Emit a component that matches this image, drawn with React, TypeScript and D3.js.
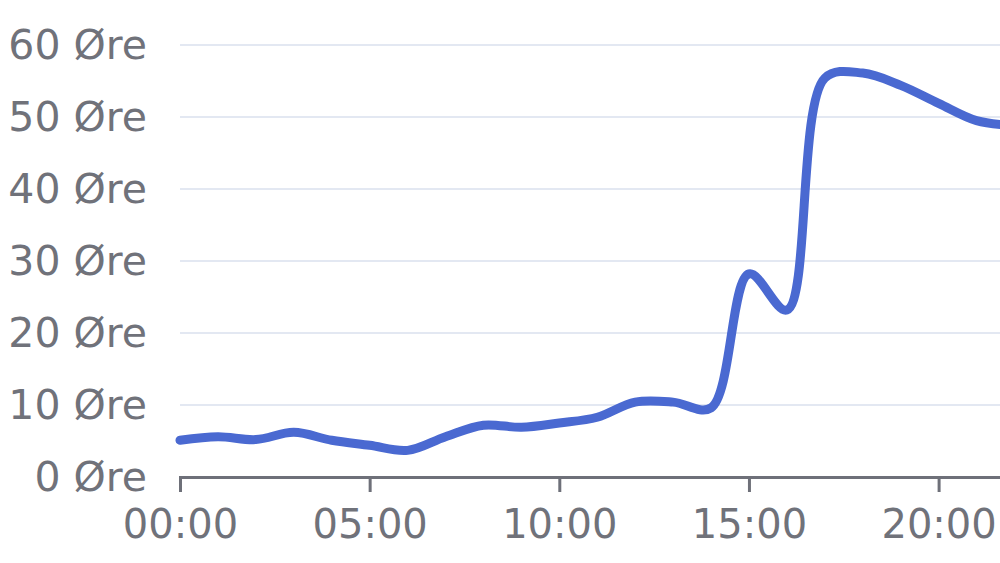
import React, { useEffect, useRef } from "react";
import * as d3 from "d3";

// hourly price, øre
const hours = [0, 1, 2, 3, 4, 5, 6, 7, 8, 9, 10, 11, 12, 13, 14, 15, 16, 17, 18, 19, 20, 21, 22];
const prices = [5.1, 5.6, 5.2, 6.2, 5.1, 4.4, 3.7, 5.6, 7.2, 6.9, 7.5, 8.3, 10.4, 10.4, 9.6, 28.2, 23.2, 55.4, 56.1, 54.4, 51.9, 49.5, 48.8];
const yTicks = [0, 10, 20, 30, 40, 50, 60];
const xTicks = [0, 5, 10, 15, 20];

const W = 1000;
const H = 563;

export default function App() {
  const ref = useRef<SVGSVGElement>(null);

  useEffect(() => {
    document.body.style.margin = "0";
    const svg = d3.select(ref.current);
    svg.selectAll("*").remove();

    const x = d3.scaleLinear().domain([0, 23]).range([180, 180 + 23 * 37.93]);
    const y = d3.scaleLinear().domain([0, 60]).range([477, 45]);

    // grid
    svg.append("g")
      .selectAll("line")
      .data(yTicks.filter((d) => d > 0))
      .enter()
      .append("line")
      .attr("x1", x(0))
      .attr("x2", W)
      .attr("y1", (d) => y(d))
      .attr("y2", (d) => y(d))
      .attr("stroke", "#e3e8f2")
      .attr("stroke-width", 2);

    // y labels
    svg.append("g")
      .selectAll("text")
      .data(yTicks)
      .enter()
      .append("text")
      .attr("x", 147)
      .attr("y", (d) => y(d))
      .attr("text-anchor", "end")
      .attr("dominant-baseline", "central")
      .attr("font-family", "DejaVu Sans")
      .attr("font-size", 41)
      .attr("fill", "#70727a")
      .text((d) => d + " Øre");

    // x axis
    const xAxis = d3.axisBottom(x)
      .tickValues(xTicks)
      .tickSize(15)
      .tickPadding(18)
      .tickFormat((d) => d3.format("02d")(d as number) + ":00");

    const gx = svg.append("g")
      .attr("transform", "translate(0," + y(0) + ")")
      .call(xAxis);
    gx.select(".domain").attr("stroke", "#6e7079").attr("stroke-width", 3);
    gx.selectAll(".tick line").attr("stroke", "#6e7079").attr("stroke-width", 3);
    gx.selectAll(".tick text")
      .attr("font-family", "DejaVu Sans")
      .attr("font-size", 40)
      .attr("fill", "#70727a");

    // price line
    const line = d3.line<number>()
      .x((d, i) => x(hours[i]))
      .y((d) => y(d))
      .curve(d3.curveCatmullRom.alpha(0.5));

    svg.append("path")
      .datum(prices)
      .attr("d", line)
      .attr("fill", "none")
      .attr("stroke", "#4a69d1")
      .attr("stroke-width", 9)
      .attr("stroke-linejoin", "round")
      .attr("stroke-linecap", "round");
  }, []);

  return <svg ref={ref} width={W} height={H} style={{ display: "block", background: "#fff" }} />;
}
